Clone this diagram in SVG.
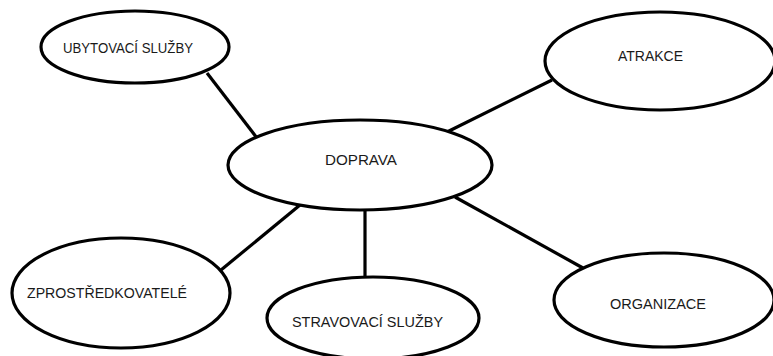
<svg xmlns="http://www.w3.org/2000/svg" width="773" height="356" viewBox="0 0 773 356">
<style>
.n ellipse{fill:#fff;stroke:#000;stroke-width:3.2}
.n text{font-family:"Liberation Sans",Arial,sans-serif;font-size:14px;fill:#1a1a1a;text-anchor:middle}
#edges line{stroke:#000;stroke-width:3.2}
</style>
<rect width="773" height="356" fill="#fff"/>
<g id="edges">
<line x1="207" y1="73" x2="257" y2="138"/>
<line x1="447" y1="132" x2="552" y2="80"/>
<line x1="300" y1="205" x2="221" y2="270"/>
<line x1="365" y1="209" x2="365" y2="278"/>
<line x1="455" y1="197" x2="583" y2="268"/>
</g>
<g id="ubytovaci" class="n"><ellipse cx="135" cy="47" rx="94" ry="36"/><text x="128" y="53" textLength="130" lengthAdjust="spacingAndGlyphs">UBYTOVACÍ SLUŽBY</text></g>
<g id="atrakce" class="n"><ellipse cx="660" cy="61" rx="115" ry="49"/><text x="650.5" y="61" textLength="65" lengthAdjust="spacingAndGlyphs">ATRAKCE</text></g>
<g id="doprava" class="n"><ellipse cx="360" cy="165" rx="132" ry="45"/><text x="361" y="165" textLength="72" lengthAdjust="spacingAndGlyphs">DOPRAVA</text></g>
<g id="zprostredkovatele" class="n"><ellipse cx="121" cy="293" rx="109" ry="55"/><text x="107" y="298" textLength="160" lengthAdjust="spacingAndGlyphs">ZPROSTŘEDKOVATELÉ</text></g>
<g id="stravovaci" class="n"><ellipse cx="373" cy="318" rx="106" ry="41"/><text x="367.5" y="327" textLength="151" lengthAdjust="spacingAndGlyphs">STRAVOVACÍ SLUŽBY</text></g>
<g id="organizace" class="n"><ellipse cx="664" cy="300" rx="110" ry="47"/><text x="658" y="309" textLength="96" lengthAdjust="spacingAndGlyphs">ORGANIZACE</text></g>
</svg>
